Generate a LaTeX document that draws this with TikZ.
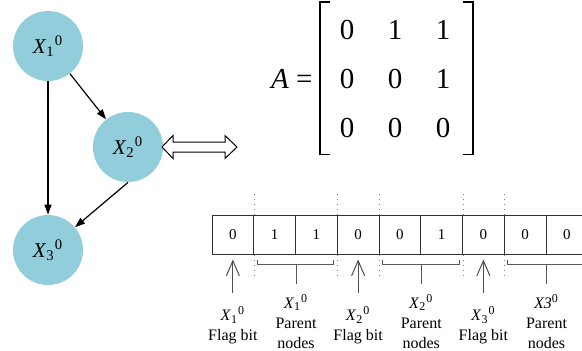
\documentclass[tikz,border=0pt]{standalone}
\usepackage{fontspec}
\setmainfont{Liberation Serif}
\usetikzlibrary{arrows.meta,positioning,matrix}

\definecolor{nodeblue}{RGB}{146,205,220}
\definecolor{cellgray}{RGB}{50,50,50}

% variable with index and upper 0
\newcommand{\xvar}[1]{\textit{X}\textsubscript{#1}\textsuperscript{0}}

\tikzset{
  vertex/.style={circle,fill=nodeblue,minimum size=35pt,inner sep=0pt,
    font=\fontsize{10.5}{12}\selectfont},
  edge/.style={line width=0.6pt,-{Triangle[length=5pt,width=3.5pt]}},
  entry/.style={minimum width=24pt,minimum height=24.5pt,inner sep=0pt,
    font=\fontsize{14.5}{16}\selectfont},
  bracket/.style={line width=0.75pt},
  bitcell/.style={draw=cellgray,line width=0.5pt,minimum width=20.875pt,
    minimum height=19.5pt,inner sep=0pt,font=\fontsize{7.5}{9}\selectfont},
  groupline/.style={gray,line width=0.5pt,dotted},
  brace/.style={draw=gray!70!black,line width=0.5pt},
  flagarrow/.style={draw=gray!60!black,line width=0.5pt,
    -{Straight Barb[length=7.5pt,width=6.5pt]}},
  caption/.style={align=center,inner sep=0pt,font=\fontsize{8}{10}\selectfont}
}

\begin{document}
\begin{tikzpicture}[x=0.5pt,y=-0.5pt]
  \useasboundingbox (0,0) rectangle (582,350);
  \clip (0,0) rectangle (582,350);

  % the graph
  \node[vertex] (x1) at (48,46) {\xvar{1}};
  \node[vertex] (x2) at (128,147) {\xvar{2}};
  \node[vertex] (x3) at (48,250) {\xvar{3}};

  \draw[edge] (x1) -- (x3);
  \draw[edge] (x1) -- (x2);
  \draw[edge] (x2.south) -- (x3);

  % hollow double arrow
  \draw[line width=0.5pt] (162,147) -- (173,135.5) -- (173,142) -- (225,142)
    -- (225,135.5) -- (237,147) -- (225,158.5) -- (225,152) -- (173,152)
    -- (173,158.5) -- cycle;

  % adjacency matrix
  \matrix (adj) [matrix of nodes,nodes=entry,column sep=0pt,row sep=0pt]
    at (395,79) {
    0 & 1 & 1 \\
    0 & 0 & 1 \\
    0 & 0 & 0 \\
  };
  \node[left=1.5pt of adj,inner sep=0pt,font=\fontsize{14.5}{16}\selectfont] (lhs)
    {\textit{A} =};
  \draw[bracket] ([xshift=7pt,yshift=-1.75pt]adj.north west)
    -- ([xshift=2pt,yshift=-1.75pt]adj.north west)
    -- ([xshift=2pt,yshift=2.5pt]adj.south west)
    -- ([xshift=7pt,yshift=2.5pt]adj.south west);
  \draw[bracket] ([xshift=-5.5pt,yshift=-1.75pt]adj.north east)
    -- ([xshift=-0.5pt,yshift=-1.75pt]adj.north east)
    -- ([xshift=-0.5pt,yshift=2.5pt]adj.south east)
    -- ([xshift=-5.5pt,yshift=2.5pt]adj.south east);

  % bit string
  \foreach \v [count=\i] in {0,1,1,0,0,1,0,0,0}
    \node[bitcell] (c\i) at ({212+41.75*(\i-0.5)},234.5) {\v};

  \foreach \c in {1,3,4,6,7} {
    \draw[groupline] (c\c.north east) -- ([yshift=11pt]c\c.north east);
    \draw[groupline] (c\c.south east) -- ([yshift=-10.5pt]c\c.south east);
  }

  % flag bits
  \foreach \c/\k in {1/1,4/2,7/3} {
    \draw[flagarrow] ([yshift=-19pt]c\c.south) -- ([yshift=-2.5pt]c\c.south);
    \node[caption] (flag\k) at ([yshift=-35.5pt]c\c.south) {\xvar{\k}\\Flag bit};
  }

  % parent groups
  \foreach \a/\b in {2/3,5/6,8/9} {
    \draw[brace] ([xshift=2pt,yshift=-2.5pt]c\a.south west)
      -- ([xshift=2pt,yshift=-5pt]c\a.south west)
      -- ([xshift=-2pt,yshift=-5pt]c\b.south east)
      -- ([xshift=-2pt,yshift=-2.5pt]c\b.south east);
    \draw[brace] ([yshift=-5pt]c\a.south east) -- ([yshift=-14.5pt]c\a.south east);
  }
  \node[caption] (par1) at ([yshift=-33.5pt]c2.south east) {\xvar{1}\\Parent\\nodes};
  \node[caption] (par2) at ([yshift=-33.5pt]c5.south east) {\xvar{2}\\Parent\\nodes};
  \node[caption] (par3) at ([yshift=-33.5pt]c8.south east)
    {\textit{X3}\textsuperscript{0}\\Parent\\nodes};
\end{tikzpicture}
\end{document}
